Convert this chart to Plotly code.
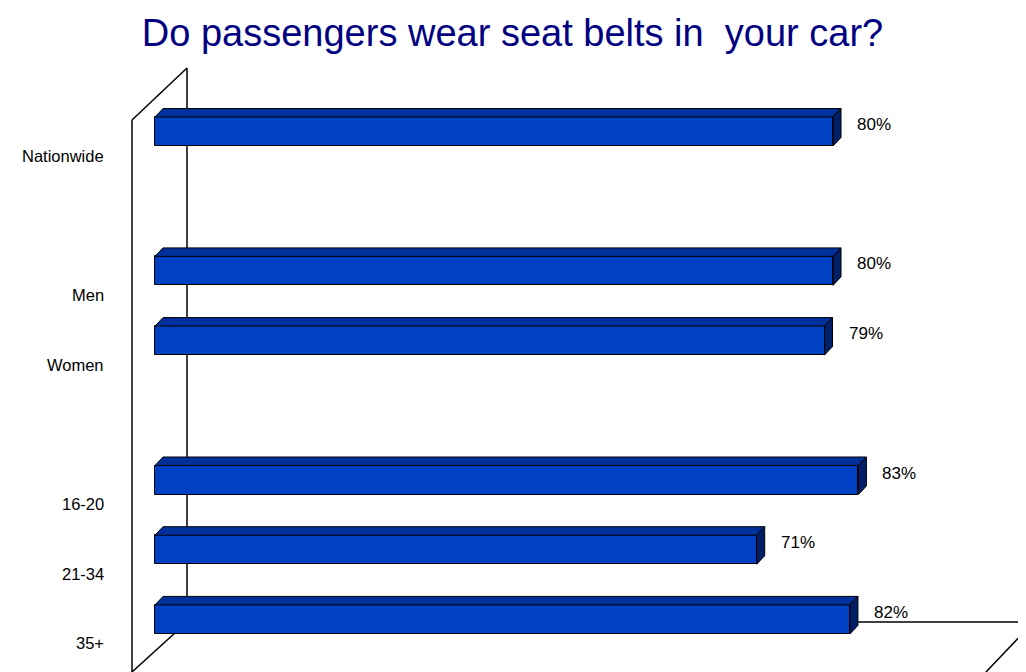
import plotly.graph_objects as go

# ---- data ----
categories = ["Nationwide", "Men", "Women", "16-20", "21-34", "35+"]
values = [80, 80, 79, 83, 71, 82]
slots = [0, 2, 3, 5, 6, 7]          # row positions (blank rows separate the groups)
value_labels = [f"{v}%" for v in values]
title_text = "Do passengers wear seat belts in  your car?"

# ---- geometry / style ----
OFF = 8               # page body margin of the browser
PX_PER_X = 8.475      # pixels per percent
PX_PER_Y = 69.7       # pixels per row
X0_PX = 155 - OFF     # figure pixel of 0 %
Y0_PX = 131.5 - OFF   # figure pixel of row 0
W, H = 1026 - OFF, 672 - OFF
BAR_W = 0.416
DX = 8 / PX_PER_X     # depth offset (x)
DY = -8.5 / PX_PER_Y  # depth offset (y, reversed axis -> up)

def px_x(p):
    """screen pixel -> data x"""
    return (p - OFF - X0_PX) / PX_PER_X

def px_y(p):
    """screen pixel -> data y"""
    return (p - OFF - Y0_PX) / PX_PER_Y

FRONT = "#0040C2"
TOP = "#00309C"
SIDE = "#001F66"
FONT = "Liberation Sans, Arial"

fig = go.Figure()

# front faces
fig.add_trace(go.Bar(
    x=values, y=slots, orientation="h", base=0, width=BAR_W,
    marker=dict(color=FRONT, line=dict(color="black", width=1)),
    hoverinfo="skip", showlegend=False,
))

# top and side faces
tx, ty, sx, sy = [], [], [], []
for v, s in zip(values, slots):
    top = s - BAR_W / 2
    bot = s + BAR_W / 2
    tx += [0, v, v + DX, DX, 0, None]
    ty += [top, top, top + DY, top + DY, top, None]
    sx += [v, v + DX, v + DX, v, v, None]
    sy += [top, top + DY, bot + DY, bot, top, None]

fig.add_trace(go.Scatter(x=tx, y=ty, mode="lines", fill="toself", fillcolor=TOP,
                         line=dict(color="black", width=1), hoverinfo="skip",
                         showlegend=False, connectgaps=False))
fig.add_trace(go.Scatter(x=sx, y=sy, mode="lines", fill="toself", fillcolor=SIDE,
                         line=dict(color="black", width=1), hoverinfo="skip",
                         showlegend=False, connectgaps=False))

# value labels
for v, s, lab in zip(values, slots, value_labels):
    fig.add_annotation(x=v, y=s, text=lab, showarrow=False, xanchor="left",
                       xshift=22, yshift=7,
                       font=dict(family=FONT, size=17, color="black"))

# category labels
for c, s in zip(categories, slots):
    fig.add_annotation(x=px_x(106), y=s, text=c, showarrow=False, xanchor="right",
                       yshift=-24,
                       font=dict(family=FONT, size=16.5, color="black"))

# 3D walls / floor lines (screen pixels)
line = dict(color="black", width=1.5)
walls = [
    (132, 120, 132, 672),
    (132, 120, 187, 68),
    (187, 68, 187, 622),
    (187, 622, 1026, 622),
    (132, 672, 187, 622),
    (986, 672, 1026, 630),
]
for x0, y0, x1, y1 in walls:
    fig.add_shape(type="line", xref="x", yref="y",
                  x0=px_x(x0), y0=px_y(y0), x1=px_x(x1), y1=px_y(y1),
                  line=line, layer="below")

fig.update_layout(
    width=W, height=H,
    margin=dict(l=0, r=0, t=0, b=0),
    paper_bgcolor="white", plot_bgcolor="white",
    title=dict(text=title_text, x=(512.5 - OFF) / W, xanchor="center",
               y=1 - (33 - OFF) / H, yanchor="middle",
               font=dict(family=FONT, size=38, color="#000080")),
    xaxis=dict(range=[px_x(OFF), px_x(OFF + W)], visible=False, fixedrange=True),
    yaxis=dict(range=[px_y(OFF + H), px_y(OFF)], visible=False, fixedrange=True),
    bargap=0,
)

fig.write_html("out.html")
